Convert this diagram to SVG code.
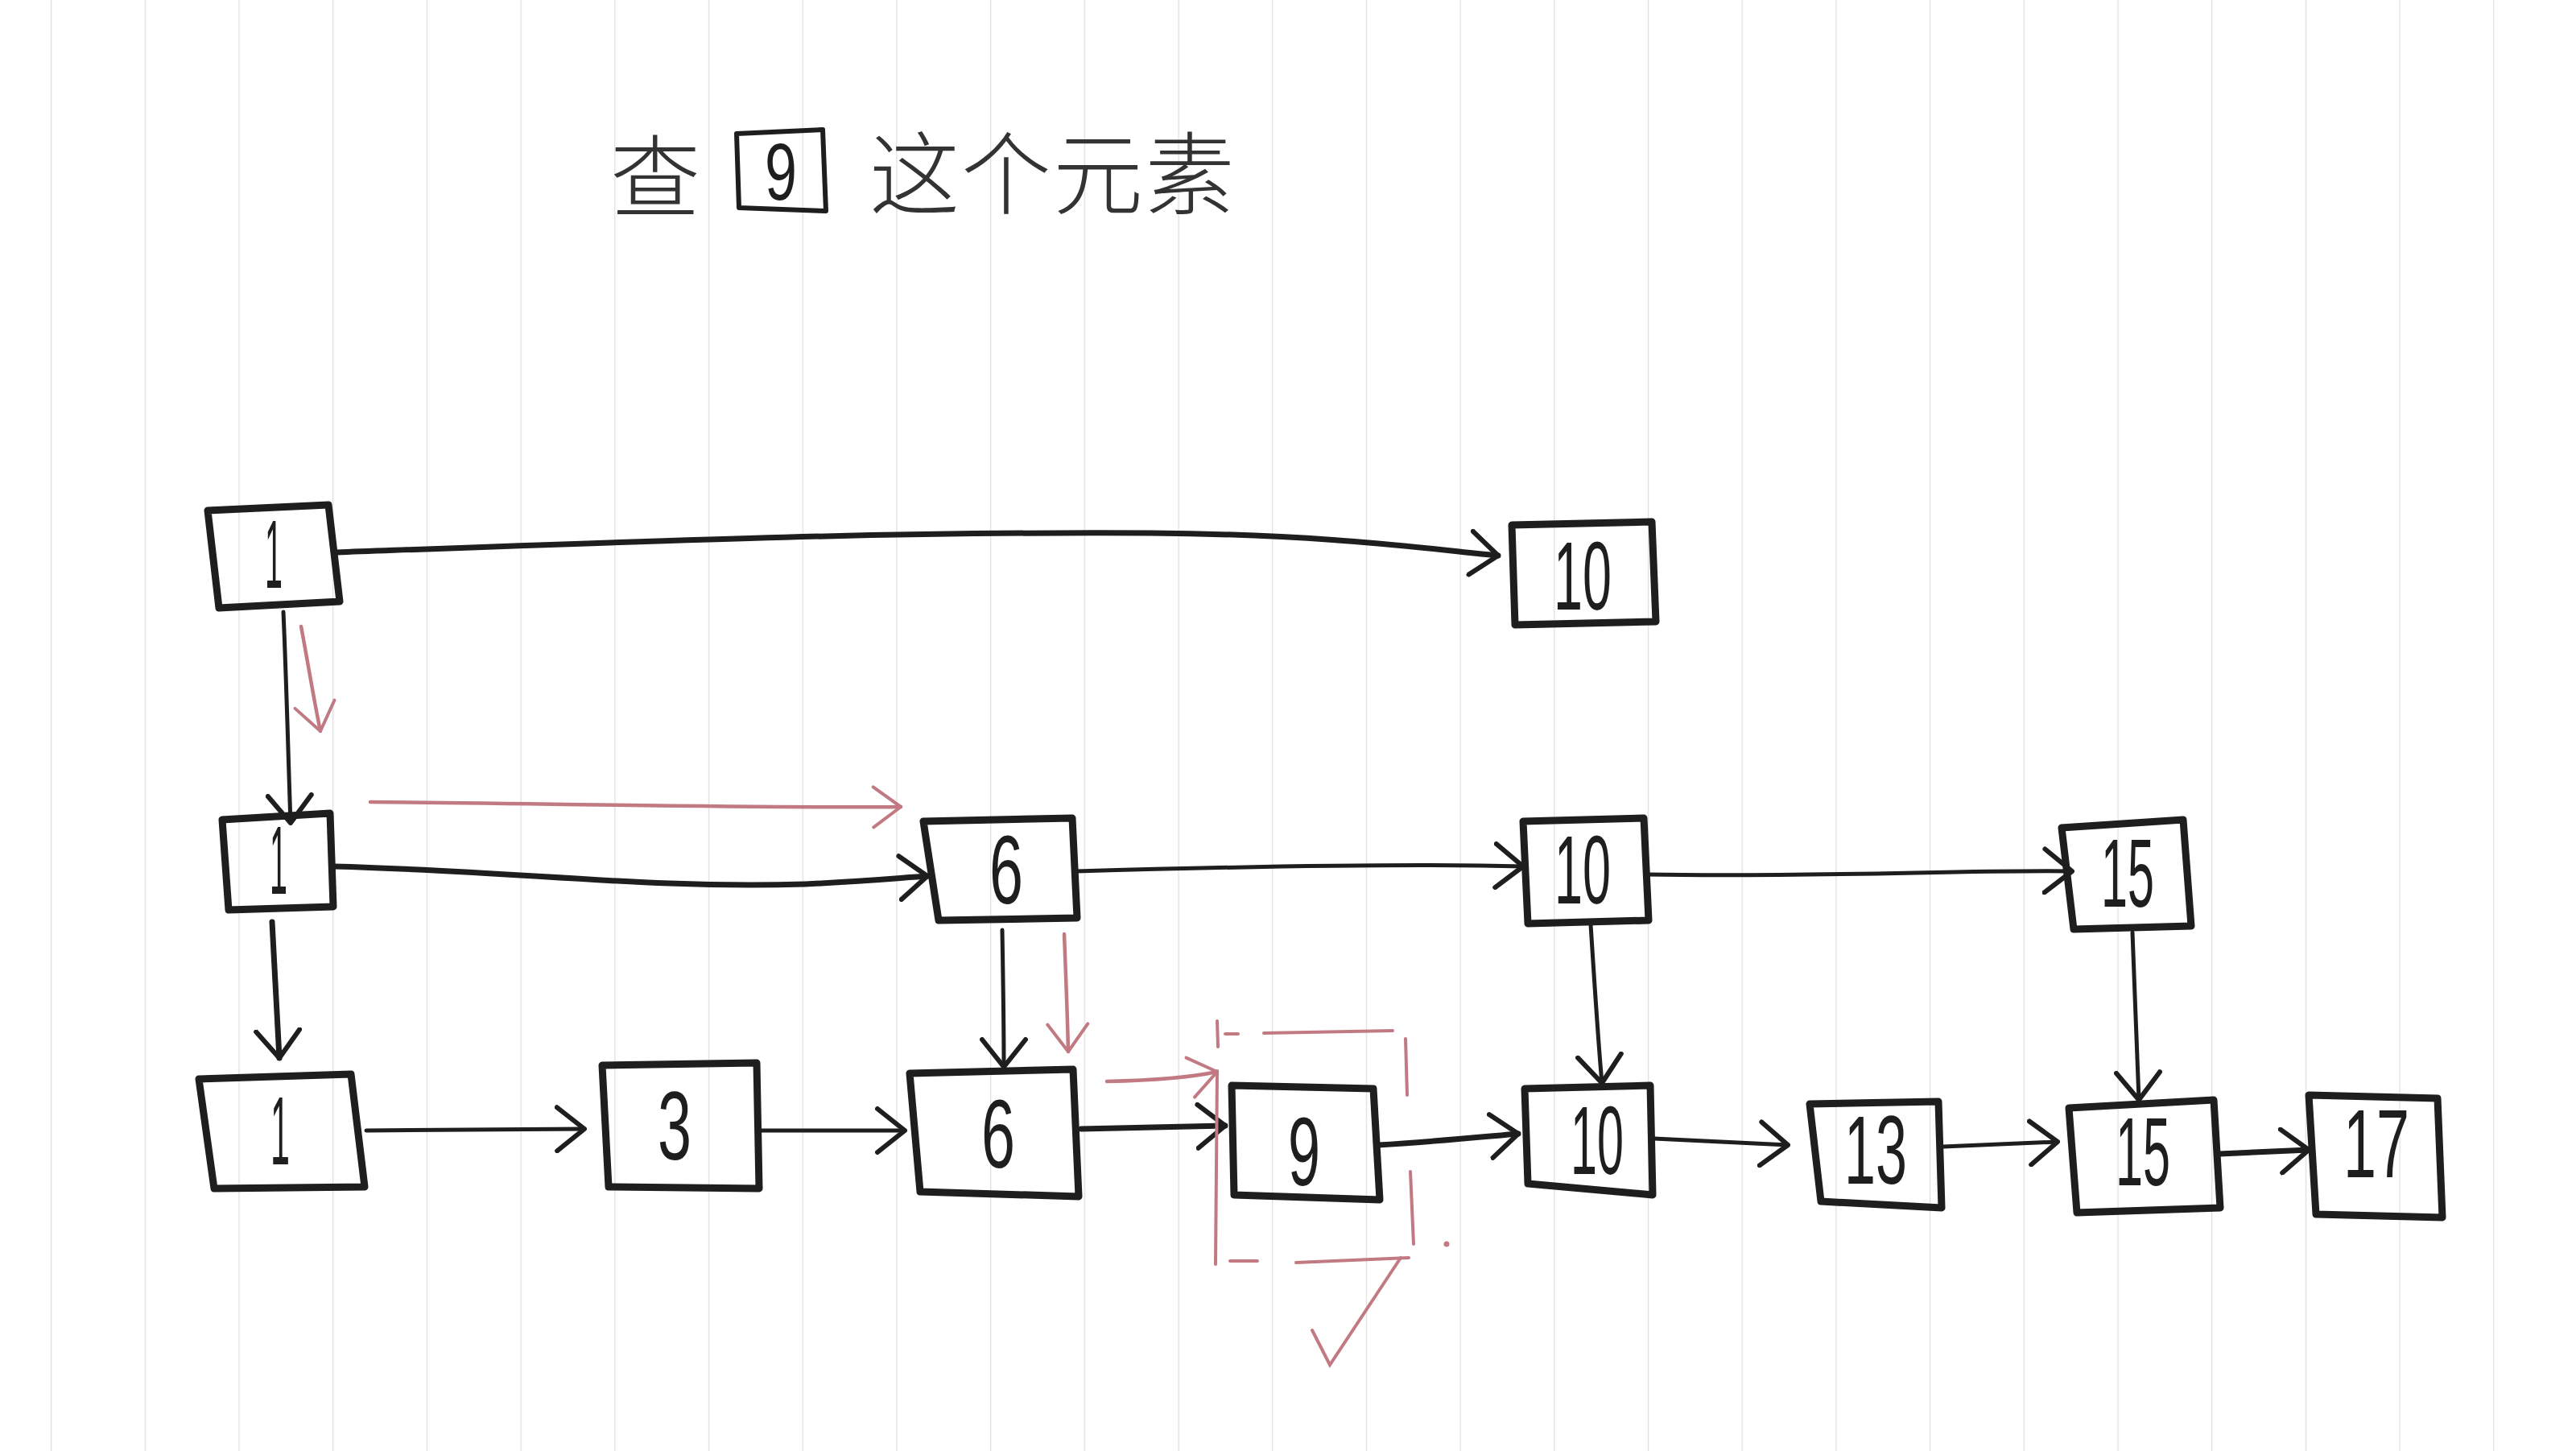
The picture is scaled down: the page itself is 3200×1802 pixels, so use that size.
<svg xmlns="http://www.w3.org/2000/svg" width="3200" height="1802" viewBox="0 0 3200 1802">
<style>
.box{fill:none;stroke:#1e1e1e;stroke-width:9;stroke-linejoin:round;stroke-linecap:round}
.lbl{font-family:"Liberation Sans",Arial,sans-serif;font-size:120px;fill:#1e1e1e;text-anchor:middle}
.edge{fill:none;stroke:#1e1e1e;stroke-width:7;stroke-linecap:round}
.thin{fill:none;stroke:#1e1e1e;stroke-width:5;stroke-linecap:round}
.red{fill:none;stroke:#c27a82;stroke-width:4.5;stroke-linecap:round}
.title{font-family:"Noto Sans CJK SC","Noto Sans",sans-serif;font-size:112px;font-weight:300;fill:#333333}
</style>
<defs>
<pattern id="paper" x="63" y="0" width="116.7" height="1802" patternUnits="userSpaceOnUse">
<line x1="0" y1="0" x2="0" y2="1802" stroke="#dedede" stroke-width="2.5"/>
</pattern>
<marker id="ah" viewBox="0 0 40 60" refX="37" refY="30" markerWidth="40" markerHeight="60" markerUnits="userSpaceOnUse" orient="auto">
<path d="M3,3 L37,30 L3,57" fill="none" stroke="#1e1e1e" stroke-width="6" stroke-linecap="round" stroke-linejoin="round"/>
</marker>
<marker id="ahr" viewBox="0 0 40 60" refX="37" refY="30" markerWidth="40" markerHeight="60" markerUnits="userSpaceOnUse" orient="auto">
<path d="M3,5 L37,30 L3,55" fill="none" stroke="#c27a82" stroke-width="4" stroke-linecap="round" stroke-linejoin="round"/>
</marker>
</defs>
<rect width="3200" height="1802" fill="#ffffff"/>
<rect width="3200" height="1802" fill="url(#paper)"/>

<g id="title">
<text class="title" x="758" y="262">查</text>
<path class="box" d="M915,166 L1022,161 L1026,262 L918,258 Z" style="stroke-width:6"/>
<text class="lbl" x="970" y="248" textLength="40" lengthAdjust="spacingAndGlyphs" style="font-size:100px">9</text>
<text class="title" x="1080" y="258" style="letter-spacing:2px">这个元素</text>
</g>

<g id="connectors">
<!-- level 3 -->
<path class="edge" d="M418,686 C800,672 1100,660 1430,662 C1650,664 1760,680 1861,690" marker-end="url(#ah)"/>
<path class="thin" d="M352,760 C356,850 358,940 361,1022" marker-end="url(#ah)"/>
<!-- level 2 -->
<path class="edge" d="M414,1076 C650,1082 800,1104 1000,1098 C1080,1094 1120,1090 1152,1088" marker-end="url(#ah)"/>
<path class="thin" d="M1337,1082 C1550,1076 1750,1072 1892,1076" marker-end="url(#ah)"/>
<path class="thin" d="M2047,1086 C2250,1090 2450,1080 2574,1082" marker-end="url(#ah)"/>
<path class="edge" d="M338,1145 C341,1200 344,1260 347,1314" marker-end="url(#ah)"/>
<path class="thin" d="M1245,1155 C1246,1210 1247,1270 1247,1325" marker-end="url(#ah)"/>
<path class="thin" d="M1976,1148 C1980,1210 1985,1290 1990,1345" marker-end="url(#ah)"/>
<path class="thin" d="M2649,1158 C2652,1230 2655,1300 2657,1366" marker-end="url(#ah)"/>
<!-- level 1 -->
<path class="thin" d="M455,1404 L726,1402" marker-end="url(#ah)"/>
<path class="thin" d="M945,1404 L1124,1404" marker-end="url(#ah)"/>
<path class="edge" d="M1343,1402 L1522,1398" marker-end="url(#ah)"/>
<path class="edge" d="M1712,1422 C1780,1418 1840,1412 1886,1408" marker-end="url(#ah)"/>
<path class="thin" d="M2055,1414 L2221,1422" marker-end="url(#ah)"/>
<path class="thin" d="M2414,1424 L2556,1418" marker-end="url(#ah)"/>
<path class="edge" d="M2757,1433 L2868,1428" marker-end="url(#ah)"/>
<!-- red search path -->
<path class="red" d="M374,778 C382,820 390,870 398,908" marker-end="url(#ahr)"/>
<path class="red" d="M460,996 C700,998 950,1004 1119,1002" marker-end="url(#ahr)"/>
<path class="red" d="M1322,1160 C1324,1210 1326,1260 1327,1306" marker-end="url(#ahr)"/>
<path class="red" d="M1375,1343 C1420,1342 1470,1340 1512,1331" marker-end="url(#ahr)"/>
<path class="red" d="M1512,1268 L1513,1300 M1512,1330 L1510,1570 M1522,1284 L1538,1284 M1570,1283 L1730,1280 M1746,1290 L1748,1360 M1752,1455 L1756,1545 M1528,1566 L1562,1566 M1610,1568 L1750,1562" style="stroke-width:4"/>
<path class="red" d="M1630,1652 L1652,1695 L1740,1562" style="stroke-width:4"/>
<circle cx="1797" cy="1545" r="3.5" fill="#c27a82"/>
</g>

<g id="n-top-1"><path class="box" d="M258,634 L408,627 L422,747 L272,755 Z"/><text class="lbl" x="340" y="730" textLength="22" lengthAdjust="spacingAndGlyphs">1</text></g>
<g id="n-top-10"><path class="box" d="M1878,652 L2052,648 L2057,772 L1882,776 Z"/><text class="lbl" x="1966" y="757" textLength="72" lengthAdjust="spacingAndGlyphs">10</text></g>

<g id="n-mid-1"><path class="box" d="M276,1018 L410,1010 L414,1126 L284,1130 Z"/><text class="lbl" x="346" y="1110" textLength="22" lengthAdjust="spacingAndGlyphs">1</text></g>
<g id="n-mid-6"><path class="box" d="M1147,1020 L1332,1016 L1338,1140 L1166,1143 Z"/><text class="lbl" x="1250" y="1122" textLength="42" lengthAdjust="spacingAndGlyphs">6</text></g>
<g id="n-mid-10"><path class="box" d="M1892,1020 L2042,1016 L2048,1143 L1898,1147 Z"/><text class="lbl" x="1966" y="1122" textLength="70" lengthAdjust="spacingAndGlyphs">10</text></g>
<g id="n-mid-15"><path class="box" d="M2561,1028 L2712,1018 L2722,1150 L2576,1154 Z"/><text class="lbl" x="2643" y="1126" textLength="66" lengthAdjust="spacingAndGlyphs">15</text></g>

<g id="n-bot-1"><path class="box" d="M247,1340 L436,1334 L453,1474 L266,1476 Z"/><text class="lbl" x="348" y="1446" textLength="24" lengthAdjust="spacingAndGlyphs">1</text></g>
<g id="n-bot-3"><path class="box" d="M748,1323 L940,1320 L943,1476 L756,1474 Z"/><text class="lbl" x="838" y="1440" textLength="42" lengthAdjust="spacingAndGlyphs">3</text></g>
<g id="n-bot-6"><path class="box" d="M1130,1333 L1333,1328 L1340,1486 L1143,1480 Z"/><text class="lbl" x="1240" y="1450" textLength="42" lengthAdjust="spacingAndGlyphs">6</text></g>
<g id="n-bot-9"><path class="box" d="M1530,1348 L1706,1352 L1714,1490 L1533,1484 Z"/><text class="lbl" x="1620" y="1472" textLength="40" lengthAdjust="spacingAndGlyphs">9</text></g>
<g id="n-bot-10"><path class="box" d="M1894,1352 L2050,1348 L2053,1484 L1898,1470 Z"/><text class="lbl" x="1984" y="1458" textLength="66" lengthAdjust="spacingAndGlyphs">10</text></g>
<g id="n-bot-13"><path class="box" d="M2248,1371 L2408,1368 L2412,1500 L2262,1492 Z"/><text class="lbl" x="2330" y="1470" textLength="78" lengthAdjust="spacingAndGlyphs">13</text></g>
<g id="n-bot-15"><path class="box" d="M2570,1376 L2750,1366 L2758,1500 L2580,1506 Z"/><text class="lbl" x="2662" y="1472" textLength="68" lengthAdjust="spacingAndGlyphs">15</text></g>
<g id="n-bot-17"><path class="box" d="M2868,1360 L3028,1364 L3034,1512 L2877,1508 Z"/><text class="lbl" x="2952" y="1462" textLength="82" lengthAdjust="spacingAndGlyphs">17</text></g>
</svg>
